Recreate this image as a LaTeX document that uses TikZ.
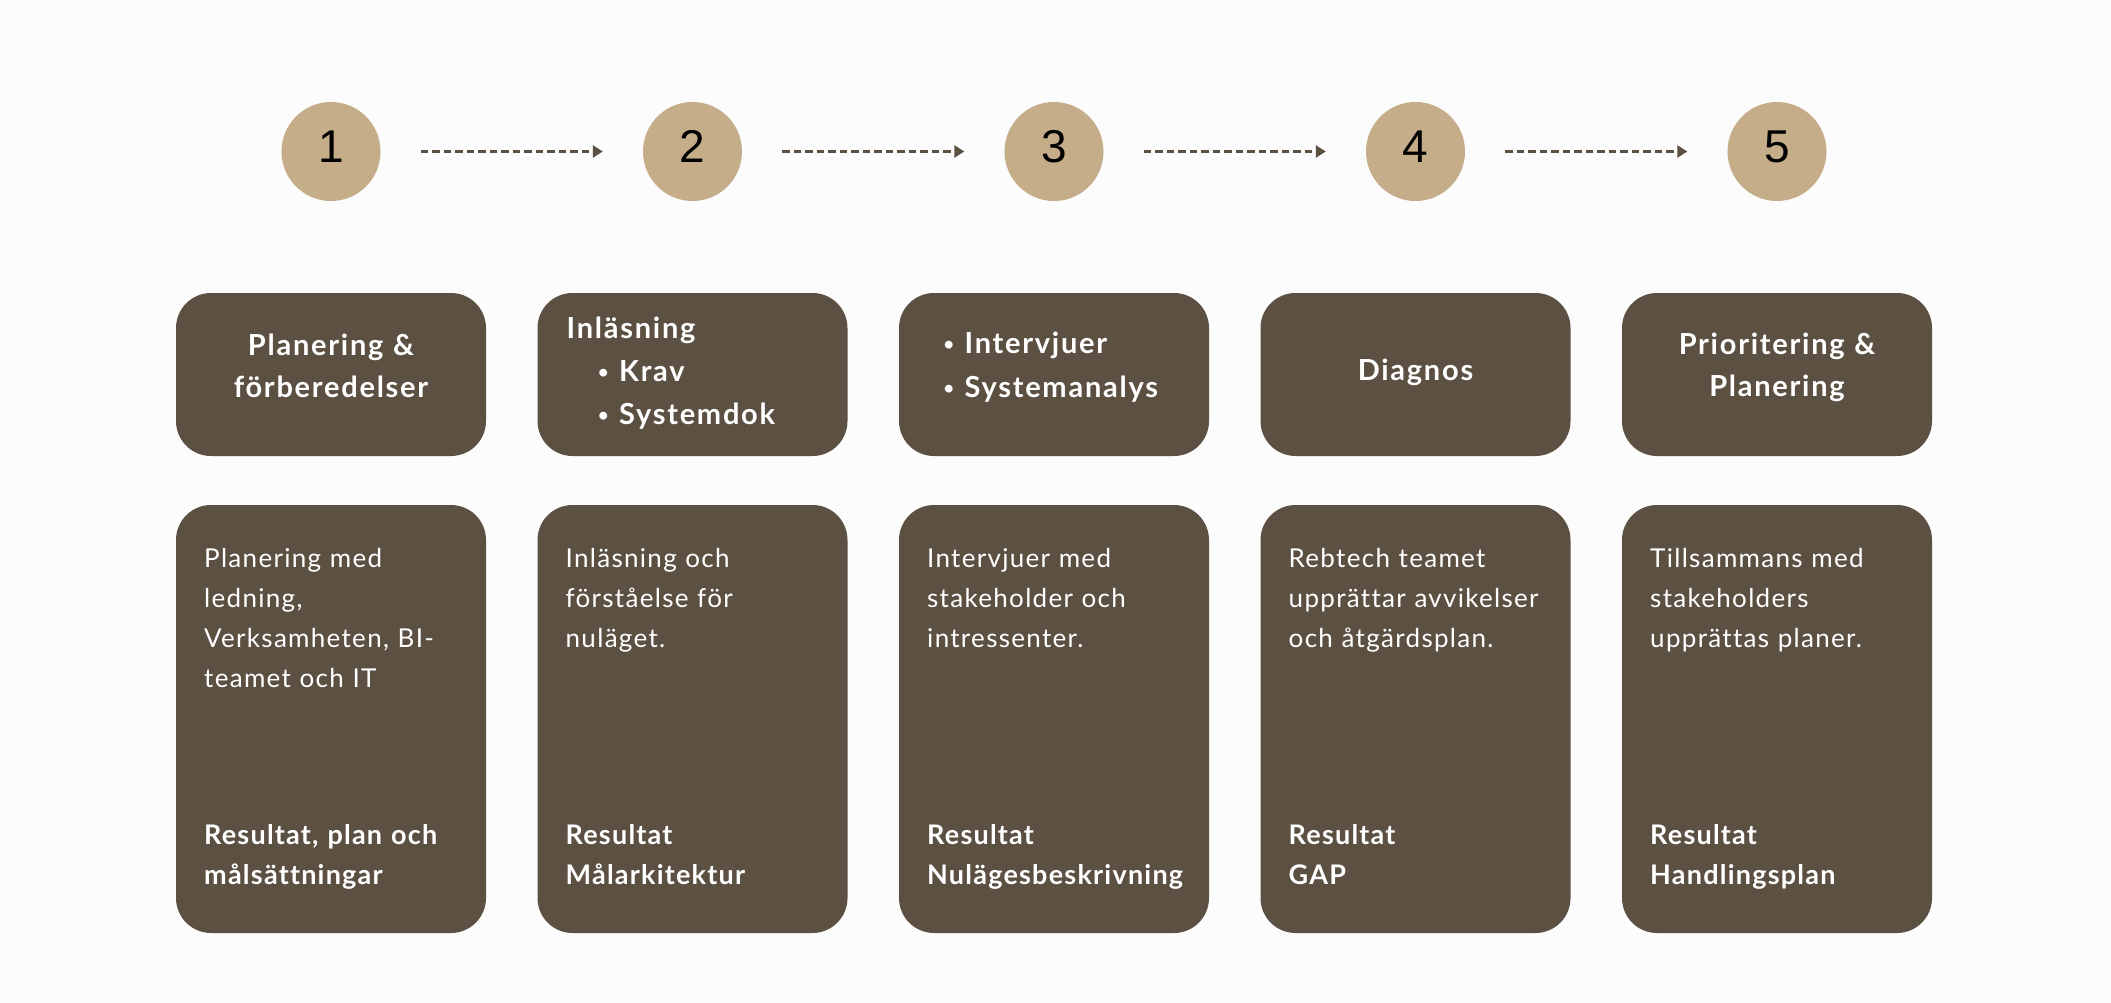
\documentclass[tikz,border=0pt]{standalone}
\usepackage{fontspec}
\setmainfont{Lato}
\newfontfamily\numfont{Liberation Sans}
\newfontfamily\bodyf{Lato}[LetterSpace=5,Ligatures=NoCommon]
\newfontfamily\headf{Lato}[LetterSpace=6,Ligatures=NoCommon]
\newfontfamily\resf{Lato}[LetterSpace=4.5,Ligatures=NoCommon]
\usetikzlibrary{arrows.meta}
\definecolor{bgc}{HTML}{FCFCFC}
\definecolor{stepTan}{HTML}{C4AD88}
\definecolor{boxbrown}{HTML}{5C5042}
\newcommand{\bul}[1]{\makebox[21pt][l]{\raisebox{2.5pt}{\fontsize{18}{18}\selectfont •}}#1}
\begin{document}
\begin{tikzpicture}[x=1pt,y=-1pt,
  numcirc/.style={circle, fill=stepTan, minimum size=99pt, inner sep=0pt,
    font=\numfont\fontsize{46}{46}\selectfont, text=black, text height=33pt, text depth=10pt},
  headbox/.style={rectangle, rounded corners=35pt, fill=boxbrown, minimum width=310pt, minimum height=163pt, inner sep=0pt},
  bodybox/.style={rectangle, rounded corners=35pt, fill=boxbrown, minimum width=310pt, minimum height=428pt, inner sep=0pt},
  headtxt/.style={text=white, font=\headf\bfseries\fontsize{29}{42}\selectfont, align=center, text width=300pt, anchor=base, inner sep=0pt},
  headleft/.style={text=white, font=\headf\bfseries\fontsize{29}{43}\selectfont, anchor=base west, inner sep=0pt},
  bodytxt/.style={text=white, font=\bodyf\fontsize{26}{40}\selectfont, align=left, text width=280pt, anchor=base west, inner sep=0pt},
  restxt/.style={bodytxt, font=\resf\bfseries\fontsize{27}{40}\selectfont},
  flow/.style={draw=boxbrown, line width=3pt, dash pattern=on 7.5pt off 4pt,
    -{Triangle[length=10pt,width=12pt]}, shorten <=40pt, shorten >=40pt}
]
\fill[bgc] (0,0) rectangle (2111,1003);
\useasboundingbox (0,0) rectangle (2111,1003);

% circles
\node[numcirc] (c1) at (331,151.5) {1};
\node[numcirc] (c2) at (692.5,151.5) {2};
\node[numcirc] (c3) at (1054,151.5) {3};
\node[numcirc] (c4) at (1415.5,151.5) {4};
\node[numcirc] (c5) at (1777,151.5) {5};

\draw[flow] (c1) -- (c2);
\draw[flow] (c2) -- (c3);
\draw[flow] (c3) -- (c4);
\draw[flow] (c4) -- (c5);

% head boxes
\node[headbox] (h1) at (331,374.5) {};
\node[headbox] (h2) at (692.5,374.5) {};
\node[headbox] (h3) at (1054,374.5) {};
\node[headbox] (h4) at (1415.5,374.5) {};
\node[headbox] (h5) at (1777,374.5) {};

\node[headtxt] (h1t) at (331,355) {Planering \&\\förberedelser};
\node[headleft] (h2t) at (566.5,338) {Inläsning};
\node[headleft] (h2a) at (598,381) {\bul{Krav}};
\node[headleft] (h2b) at (598,424) {\bul{Systemdok}};
\node[headleft] (h3a) at (943.5,353) {\bul{Intervjuer}};
\node[headleft] (h3b) at (943.5,397) {\bul{Systemanalys}};
\node[headtxt] (h4t) at (1415.5,380) {Diagnos};
\node[headtxt] (h5t) at (1777,354) {Prioritering \&\\Planering};

% body boxes
\node[bodybox] (b1) at (331,719) {};
\node[bodybox] (b2) at (692.5,719) {};
\node[bodybox] (b3) at (1054,719) {};
\node[bodybox] (b4) at (1415.5,719) {};
\node[bodybox] (b5) at (1777,719) {};

\node[bodytxt] (b1t) at (204,567) {Planering med\\ledning,\\Verksamheten, BI-\\teamet och IT};
\node[bodytxt] (b2t) at (565.5,567) {Inläsning och\\förståelse för\\nuläget.};
\node[bodytxt] (b3t) at (927,567) {Intervjuer med\\stakeholder och\\intressenter.};
\node[bodytxt] (b4t) at (1288.5,567) {Rebtech teamet\\upprättar avvikelser\\och åtgärdsplan.};
\node[bodytxt] (b5t) at (1650,567) {Tillsammans med\\stakeholders\\upprättas planer.};

\node[restxt] (r1) at (204,844) {Resultat, plan och\\målsättningar};
\node[restxt] (r2) at (565.5,844) {Resultat\\Målarkitektur};
\node[restxt] (r3) at (927,844) {Resultat\\Nulägesbeskrivning};
\node[restxt] (r4) at (1288.5,844) {Resultat\\GAP};
\node[restxt] (r5) at (1650,844) {Resultat\\Handlingsplan};
\end{tikzpicture}
\end{document}
